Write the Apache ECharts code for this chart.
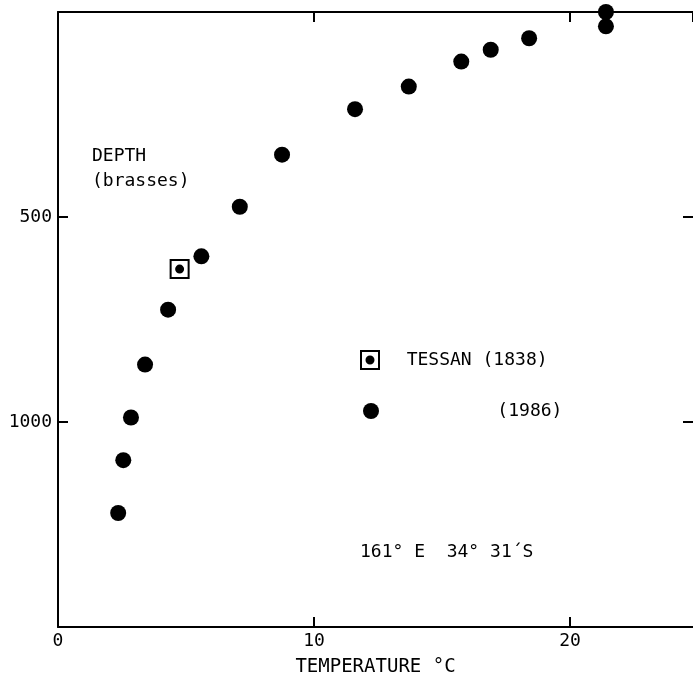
<!DOCTYPE html>
<html>
<head>
<meta charset="utf-8">
<script src="https://cdn.jsdelivr.net/npm/echarts@6/dist/echarts.min.js"></script>
<style>
html,body{margin:0;padding:0;background:#fff;}
#chart{width:693px;height:682px;}
</style>
</head>
<body>
<div id="chart"></div>
<script>
// Data
const temp1986  = [21.4, 21.4, 18.4, 16.9, 15.75, 13.7, 11.6, 8.75, 7.1, 5.6, 4.3, 3.4, 2.85, 2.55, 2.35];
const depth1986 = [0, 35, 64, 92, 121, 182, 237, 348, 475, 596, 726, 860, 989, 1093, 1222];
const tempTessan  = [4.75];
const depthTessan = [627];
const xTicks = [0, 10, 20];
const yTicks = [500, 1000];
const seriesNames = ['TESSAN (1838)', '(1986)'];

const FONT = 'DejaVu Sans Mono';
const INK = '#000';
const tessanSymbol = 'path://M0,0H20V20H0Z M2,2V18H18V2Z M5.5,10A4.5,4.5,0,1,0,14.5,10A4.5,4.5,0,1,0,5.5,10Z';

const pts1986 = temp1986.map((t, i) => [t, depth1986[i]]);
const ptsTessan = tempTessan.map((t, i) => [t, depthTessan[i]]);

function axisLine(show) { return { show: show, onZero: false, lineStyle: { color: INK, width: 2 } }; }
function axisTick() { return { show: true, inside: true, length: 10, lineStyle: { color: INK, width: 2 } }; }

const chart = echarts.init(document.getElementById('chart'), null, { renderer: 'canvas' });
chart.setOption({
  backgroundColor: '#fff',
  animation: false,
  grid: { left: 58, top: 12, right: 0, bottom: 54, containLabel: false },
  xAxis: [
    {
      type: 'value', position: 'bottom', min: 0, max: 24.8, interval: 10,
      axisLine: axisLine(true), axisTick: axisTick(), splitLine: { show: false },
      axisLabel: {
        color: INK, fontFamily: FONT, fontSize: 18, margin: 5,
        showMaxLabel: false,
        formatter: v => (xTicks.indexOf(v) >= 0 ? String(v) : '')
      },
      name: 'TEMPERATURE °C', nameLocation: 'middle', nameGap: 31,
      nameTextStyle: { color: INK, fontFamily: FONT, fontSize: 19 }
    },
    {
      type: 'value', position: 'top', min: 0, max: 24.8, interval: 10,
      axisLine: axisLine(true), axisTick: axisTick(), splitLine: { show: false }, axisLabel: { show: false }
    }
  ],
  yAxis: [
    {
      type: 'value', position: 'left', inverse: true, min: 0, max: 1500, interval: 500,
      axisLine: axisLine(true), axisTick: axisTick(), splitLine: { show: false },
      axisLabel: {
        color: INK, fontFamily: FONT, fontSize: 18, margin: 6,
        formatter: v => (yTicks.indexOf(v) >= 0 ? String(v) : '')
      }
    },
    {
      type: 'value', position: 'right', inverse: true, min: 0, max: 1500, interval: 500,
      axisLine: axisLine(false), axisTick: axisTick(), splitLine: { show: false }, axisLabel: { show: false }
    }
  ],
  legend: [
    {
      data: [{ name: seriesNames[0], icon: tessanSymbol }],
      left: 360, top: 350, itemWidth: 20, itemHeight: 20, padding: 0,
      formatter: n => '  ' + n,
      textStyle: { color: INK, fontFamily: FONT, fontSize: 18 }
    },
    {
      data: [{ name: seriesNames[1], icon: 'circle' }],
      left: 363, top: 402, itemWidth: 16, itemHeight: 16, padding: 0,
      formatter: n => '          ' + n,
      textStyle: { color: INK, fontFamily: FONT, fontSize: 18, padding: [0, 0, 0, 5] }
    }
  ],
  graphic: [
    {
      type: 'text', left: 92, top: 144,
      style: { text: 'DEPTH\n(brasses)', fill: INK, font: '18px "DejaVu Sans Mono"', lineHeight: 25 }
    },
    {
      type: 'text', left: 360, top: 543,
      style: { text: '161° E  34° 31´S', fill: INK, font: '18px "DejaVu Sans Mono"' }
    }
  ],
  series: [
    {
      name: seriesNames[0], type: 'scatter', data: ptsTessan,
      symbol: tessanSymbol, symbolSize: 20,
      itemStyle: { color: INK, opacity: 1 }
    },
    {
      name: seriesNames[1], type: 'scatter', data: pts1986,
      symbol: 'circle', symbolSize: 16,
      itemStyle: { color: INK, opacity: 1 }
    }
  ]
});
</script>
</body>
</html>
